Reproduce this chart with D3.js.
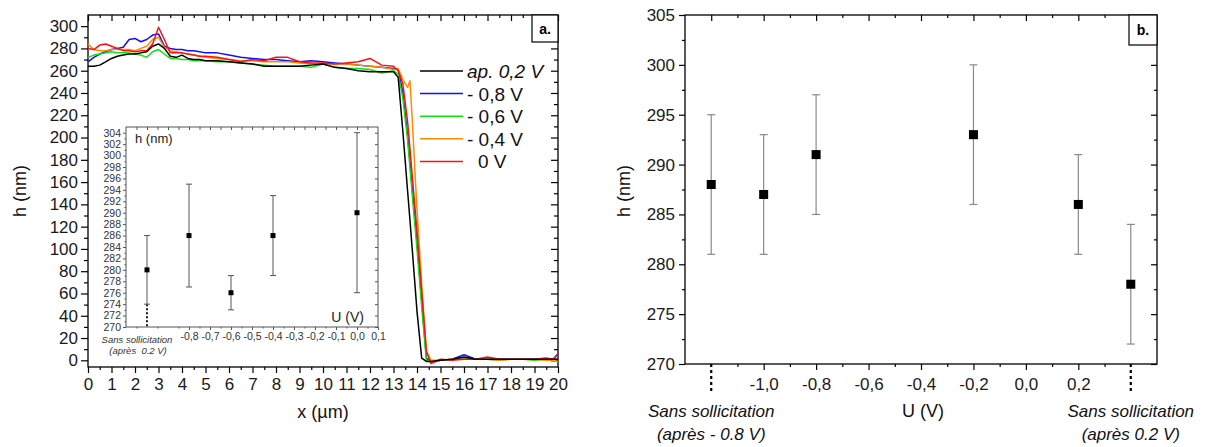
<!DOCTYPE html>
<html><head><meta charset="utf-8">
<script src="https://cdn.jsdelivr.net/npm/d3@7"></script>
<style>
body{margin:0;background:#fff}
svg{display:block;font-family:"Liberation Sans",Arial,sans-serif}
</style></head><body>
<svg id="c" width="1205" height="447"></svg>
<script>
// ---------- Panel a: profiles ----------
const xs = [0,0.25,0.5,0.75,1,1.25,1.5,1.75,2,2.25,2.5,2.75,3,3.25,3.5,3.75,4,4.25,4.5,4.75,5,
  5.5,6,6.5,7,7.5,8,8.5,9,9.5,10,10.5,11,11.5,12,12.5,13,
  13.2,13.4,13.6,13.7,13.8,14.0,14.2,14.4,14.6,
  15,15.5,16,16.5,17,17.5,18,18.5,19,19.5,19.8,20];
const hAp02 = [264,264,265,268,271,273,274,275,275,276,277,282,284,280,273,272,274,271,270,270,269,
  269,268,267,266,264,264,264,264,265,266,263,262,260,259,259,259,
  254,205,152,126,99,44,2,-1,-1,
  0,1,3,1,1,1,1,1,1,1,1,1];
const hM08 = [268,272,275,277,279,280,281,288,289,286,288,292,293,282,280,279,279,278,278,277,276,
  276,274,272,271,270,270,269,268,269,268,267,266,265,264,263,262,
  261,240,202,178,153,106,54,2,-1,
  0,1,5,1,1,1,1,1,1,1,1,6];
const hM06 = [272,274,275,276,277,276,276,276,275,274,272,277,279,275,271,271,270,270,269,269,269,
  268,268,267,266,265,264,264,264,263,266,263,262,262,261,258,260,
  257,235,198,173,148,100,48,0,-1,
  0,1,2,1,1,0,1,1,0,1,1,1];
const hM04 = [284,279,278,278,279,279,279,279,278,280,282,288,290,281,278,277,276,275,274,273,272,
  271,270,269,269,268,268,268,267,266,266,266,266,265,264,263,261,
  262,252,245,251,215,135,68,8,0,
  0,1,1,1,1,0,1,1,1,0,0,-1];
const h0 = [280,279,283,284,282,280,278,278,277,278,278,284,299,288,276,276,276,275,274,273,273,
  272,270,268,270,269,272,272,268,267,267,266,267,268,271,265,264,
  260,248,214,190,165,116,62,8,-3,
  1,0,1,1,3,1,1,1,1,2,1,6];
const seriesNames = ["ap. 0,2 V","- 0,8 V","- 0,6 V","- 0,4 V","0 V"];
const seriesValues = [hAp02,hM08,hM06,hM04,h0];
const seriesColors = ["#000000","#1010ff","#10e010","#ff8c00","#ff1010"];
const aXTicks = d3.range(0,21,1);
const aYTicks = d3.range(0,301,20);

// ---------- Inset ----------
const insetU = [-1.0,-0.8,-0.6,-0.4,0.0];
const insetH = [280,286,276,286,290];
const insetLow = [274,277,273,279,276];
const insetHigh = [286,295,279,293,304];
const insetXTicks = [-0.8,-0.7,-0.6,-0.5,-0.4,-0.3,-0.2,-0.1,0.0,0.1];
const insetYTicks = d3.range(270,305,2);

// ---------- Panel b ----------
const bU = [-1.2,-1.0,-0.8,-0.2,0.2,0.4];
const bH = [288,287,291,293,286,278];
const bLow = [281,281,285,286,281,272];
const bHigh = [295,293,297,300,291,284];
const bXTicks = [-1.0,-0.8,-0.6,-0.4,-0.2,0.0,0.2];
const bYTicks = d3.range(270,306,5);

const fmtC = d => (d < -1e-9 ? "-" : "") + Math.abs(d).toFixed(1).replace(".", ",");
const svg = d3.select("#c");

function styleAxis(g, size, color){
  g.select(".domain").remove();
  g.selectAll("line").attr("stroke","#000").attr("stroke-width",1.2);
  g.selectAll("text").attr("font-size",size).attr("fill",color||"#1a1a1a")
    .attr("font-family","'Liberation Sans',Arial,sans-serif");
}

// ===== Panel a =====
const ax = d3.scaleLinear().domain([0,20]).range([88,558]);
const ay = d3.scaleLinear().domain([-6,310]).range([367,15]);
const gA = svg.append("g");

gA.append("g").attr("transform","translate(0,367)")
  .call(d3.axisBottom(ax).tickValues(aXTicks).tickSize(6).tickPadding(5).tickFormat(d3.format("d")))
  .call(g=>styleAxis(g,17));
gA.append("g").attr("transform","translate(0,367)")
  .call(d3.axisBottom(ax).tickValues(d3.range(0.5,20,1)).tickSize(3).tickFormat(""))
  .call(g=>styleAxis(g,17));
gA.append("g").attr("transform","translate(0,15)")
  .call(d3.axisTop(ax).tickValues(aXTicks).tickSize(-6).tickFormat(""))
  .call(g=>styleAxis(g,17));
gA.append("g").attr("transform","translate(0,15)")
  .call(d3.axisTop(ax).tickValues(d3.range(0.5,20,1)).tickSize(-3).tickFormat(""))
  .call(g=>styleAxis(g,17));
gA.append("g").attr("transform","translate(88,0)")
  .call(d3.axisLeft(ay).tickValues(aYTicks).tickSize(7).tickPadding(3).tickFormat(d3.format("d")))
  .call(g=>styleAxis(g,17));
gA.append("g").attr("transform","translate(88,0)")
  .call(d3.axisLeft(ay).tickValues(d3.range(10,310,20)).tickSize(4).tickFormat(""))
  .call(g=>styleAxis(g,17));
gA.append("g").attr("transform","translate(558,0)")
  .call(d3.axisRight(ay).tickValues(aYTicks).tickSize(-7).tickFormat(""))
  .call(g=>styleAxis(g,17));
gA.append("g").attr("transform","translate(558,0)")
  .call(d3.axisRight(ay).tickValues(d3.range(10,310,20)).tickSize(-4).tickFormat(""))
  .call(g=>styleAxis(g,17));
gA.append("rect").attr("x",88).attr("y",15).attr("width",470).attr("height",352)
  .attr("fill","none").attr("stroke","#000").attr("stroke-width",1.3);

// Inset
const ix = d3.scaleLinear().domain([-1.1,0.1]).range([126,378]);
const iy = d3.scaleLinear().domain([270,305]).range([327,127]);
const gI = svg.append("g");
gI.append("rect").attr("x",126).attr("y",127).attr("width",252).attr("height",200)
  .attr("fill","#fff").attr("stroke","none");
gI.append("g").attr("transform","translate(126,0)")
  .call(d3.axisLeft(iy).tickValues(insetYTicks).tickSize(3).tickPadding(2).tickFormat(d3.format("d")))
  .call(g=>styleAxis(g,10.5,"#333"));
gI.append("g").attr("transform","translate(126,0)")
  .call(d3.axisLeft(iy).tickValues(d3.range(271,305,2)).tickSize(1.5).tickFormat(""))
  .call(g=>styleAxis(g,10));
gI.append("g").attr("transform","translate(378,0)")
  .call(d3.axisRight(iy).tickValues(insetYTicks).tickSize(-3).tickFormat(""))
  .call(g=>styleAxis(g,10));
gI.append("g").attr("transform","translate(0,327)")
  .call(d3.axisBottom(ix).tickValues(insetXTicks).tickSize(3).tickPadding(3).tickFormat(fmtC))
  .call(g=>styleAxis(g,10.5,"#333"));
gI.append("g").attr("transform","translate(0,327)")
  .call(d3.axisBottom(ix).tickValues(d3.range(-1.05,0.1,0.1)).tickSize(1.5).tickFormat(""))
  .call(g=>styleAxis(g,10));
gI.append("g").attr("transform","translate(0,127)")
  .call(d3.axisTop(ix).tickValues(d3.range(-1.05,0.1,0.05)).tickSize(-3).tickFormat(""))
  .call(g=>styleAxis(g,10));
gI.selectAll("line").attr("stroke","#444").attr("stroke-width",0.9);
gI.append("rect").attr("x",126).attr("y",127).attr("width",252).attr("height",200)
  .attr("fill","none").attr("stroke","#555").attr("stroke-width",1);
gI.append("line").attr("x1",ix(-1.0)).attr("x2",ix(-1.0)).attr("y1",iy(insetLow[0])).attr("y2",iy(270))
  .attr("stroke","#000").attr("stroke-width",1.8).attr("stroke-dasharray","2,2");
insetU.forEach((u,i)=>{
  const x = ix(u);
  gI.append("line").attr("x1",x).attr("x2",x).attr("y1",iy(insetLow[i])).attr("y2",iy(insetHigh[i]))
    .attr("stroke","#555").attr("stroke-width",1);
  [insetLow[i],insetHigh[i]].forEach(v=>gI.append("line").attr("x1",x-3).attr("x2",x+3)
    .attr("y1",iy(v)).attr("y2",iy(v)).attr("stroke","#555").attr("stroke-width",1));
  gI.append("rect").attr("x",x-2.5).attr("y",iy(insetH[i])-2.5).attr("width",5).attr("height",5).attr("fill","#000");
});
gI.append("text").attr("x",135).attr("y",143).attr("font-size",13).attr("fill","#222").text("h (nm)");
gI.append("text").attr("x",364).attr("y",322).attr("text-anchor","end").attr("font-size",14).attr("fill","#222").text("U (V)");
gI.append("text").attr("x",137).attr("y",343).attr("text-anchor","middle").attr("font-size",9.5)
  .attr("font-style","italic").attr("fill","#333").text("Sans sollicitation");
gI.append("text").attr("x",138).attr("y",354).attr("text-anchor","middle").attr("font-size",9.5)
  .attr("font-style","italic").attr("fill","#333").attr("xml:space","preserve").style("white-space","pre").text("(après  0.2 V)");

// profile lines (drawn after inset)
const line = d3.line().x((d,i)=>ax(xs[i])).y(d=>ay(d));
[1,2,3,4,0].forEach(k=>{
  gA.append("path").attr("d",line(seriesValues[k])).attr("fill","none")
    .attr("stroke",seriesColors[k]).attr("stroke-width",1.5).attr("stroke-linejoin","round");
});

// legend
seriesNames.forEach((n,i)=>{
  const y = 71 + i*22.6;
  gA.append("line").attr("x1",420).attr("x2",463).attr("y1",y).attr("y2",y)
    .attr("stroke",seriesColors[i]).attr("stroke-width",1.5);
  gA.append("text").attr("x", i===4 ? 478 : 467).attr("y",y+7).attr("font-size",19)
    .attr("font-style", i===0 ? "italic" : "normal").attr("fill","#111").text(n);
});

// a. box
gA.append("rect").attr("x",532).attr("y",15).attr("width",26).attr("height",27)
  .attr("fill","#fff").attr("stroke","#000").attr("stroke-width",1.2);
gA.append("text").attr("x",545).attr("y",34).attr("text-anchor","middle").attr("font-size",14)
  .attr("font-weight","bold").text("a.");

gA.append("text").attr("transform","translate(26,191) rotate(-90)").attr("text-anchor","middle")
  .attr("font-size",18).attr("fill","#111").text("h (nm)");
gA.append("text").attr("x",323).attr("y",418).attr("text-anchor","middle")
  .attr("font-size",18).attr("fill","#111").text("x (µm)");

// ===== Panel b =====
const bx = d3.scaleLinear().domain([-1.3,0.5]).range([685,1157]);
const by = d3.scaleLinear().domain([270,305]).range([364,15]);
const gB = svg.append("g");
gB.append("g").attr("transform","translate(685,0)")
  .call(d3.axisLeft(by).tickValues(bYTicks).tickSize(6).tickPadding(4).tickFormat(d3.format("d")))
  .call(g=>styleAxis(g,17));
gB.append("g").attr("transform","translate(685,0)")
  .call(d3.axisLeft(by).tickValues(d3.range(272.5,305,5)).tickSize(3).tickFormat(""))
  .call(g=>styleAxis(g,17));
gB.append("g").attr("transform","translate(1157,0)")
  .call(d3.axisRight(by).tickValues(bYTicks).tickSize(-6).tickFormat(""))
  .call(g=>styleAxis(g,17));
gB.append("g").attr("transform","translate(1157,0)")
  .call(d3.axisRight(by).tickValues(d3.range(272.5,305,5)).tickSize(-3).tickFormat(""))
  .call(g=>styleAxis(g,17));
gB.append("g").attr("transform","translate(0,364)")
  .call(d3.axisBottom(bx).tickValues(bXTicks).tickSize(6).tickPadding(8).tickFormat(fmtC))
  .call(g=>styleAxis(g,17));
gB.append("g").attr("transform","translate(0,364)")
  .call(d3.axisBottom(bx).tickValues([-1.1,-0.9,-0.7,-0.5,-0.3,-0.1,0.1,0.3]).tickSize(3).tickFormat(""))
  .call(g=>styleAxis(g,17));
gB.append("g").attr("transform","translate(0,15)")
  .call(d3.axisTop(bx).tickValues(bXTicks.concat([-1.2,0.4])).tickSize(-6).tickFormat(""))
  .call(g=>styleAxis(g,17));
gB.append("g").attr("transform","translate(0,15)")
  .call(d3.axisTop(bx).tickValues([-1.1,-0.9,-0.7,-0.5,-0.3,-0.1,0.1,0.3]).tickSize(-3).tickFormat(""))
  .call(g=>styleAxis(g,17));
gB.append("rect").attr("x",685).attr("y",15).attr("width",472).attr("height",349)
  .attr("fill","none").attr("stroke","#000").attr("stroke-width",1.3);
[bU[0], bU[bU.length-1]].forEach(u=>{
  gB.append("line").attr("x1",bx(u)).attr("x2",bx(u)).attr("y1",364).attr("y2",394)
    .attr("stroke","#000").attr("stroke-width",2.2).attr("stroke-dasharray","3,3");
});
bU.forEach((u,i)=>{
  const x = bx(u);
  gB.append("line").attr("x1",x).attr("x2",x).attr("y1",by(bLow[i])).attr("y2",by(bHigh[i]))
    .attr("stroke","#8a8a8a").attr("stroke-width",1.2);
  [bLow[i],bHigh[i]].forEach(v=>gB.append("line").attr("x1",x-4).attr("x2",x+4)
    .attr("y1",by(v)).attr("y2",by(v)).attr("stroke","#8a8a8a").attr("stroke-width",1.2));
  gB.append("rect").attr("x",x-4.5).attr("y",by(bH[i])-4.5).attr("width",9).attr("height",9).attr("fill","#000");
});
gB.append("rect").attr("x",1129).attr("y",15).attr("width",28).attr("height",30)
  .attr("fill","#fff").attr("stroke","#000").attr("stroke-width",1.2);
gB.append("text").attr("x",1143).attr("y",35).attr("text-anchor","middle").attr("font-size",14)
  .attr("font-weight","bold").text("b.");
gB.append("text").attr("transform","translate(630,191) rotate(-90)").attr("text-anchor","middle")
  .attr("font-size",18).attr("fill","#111").text("h (nm)");
gB.append("text").attr("x",923).attr("y",417).attr("text-anchor","middle")
  .attr("font-size",18).attr("fill","#111").text("U (V)");
[[bx(bU[0]),"(après - 0.8 V)"],[bx(bU[bU.length-1]),"(après 0.2 V)"]].forEach(([x,t])=>{
  gB.append("text").attr("x",x).attr("y",417).attr("text-anchor","middle").attr("font-size",17)
    .attr("font-style","italic").attr("fill","#111").text("Sans sollicitation");
  gB.append("text").attr("x",x).attr("y",440).attr("text-anchor","middle").attr("font-size",17)
    .attr("font-style","italic").attr("fill","#111").text(t);
});
</script>
</body></html>
